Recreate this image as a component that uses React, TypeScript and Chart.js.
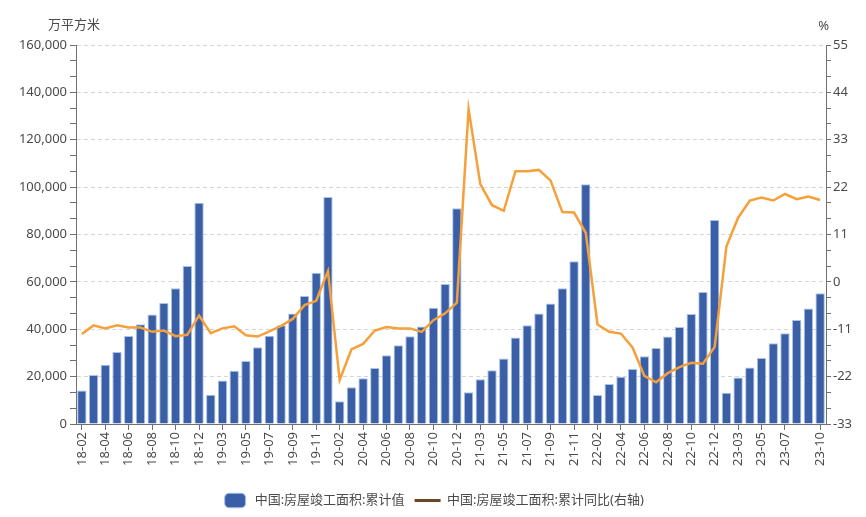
import React, { useEffect, useRef } from 'react';
import { Chart, registerables } from 'chart.js';

Chart.register(...registerables);

const categories = [
  '18-02', '18-03', '18-04', '18-05', '18-06', '18-07', '18-08', '18-09', '18-10', '18-11', '18-12',
  '19-02', '19-03', '19-04', '19-05', '19-06', '19-07', '19-08', '19-09', '19-10', '19-11', '19-12',
  '20-02', '20-03', '20-04', '20-05', '20-06', '20-07', '20-08', '20-09', '20-10', '20-11', '20-12',
  '21-02', '21-03', '21-04', '21-05', '21-06', '21-07', '21-08', '21-09', '21-10', '21-11', '21-12',
  '22-02', '22-03', '22-04', '22-05', '22-06', '22-07', '22-08', '22-09', '22-10', '22-11', '22-12',
  '23-02', '23-03', '23-04', '23-05', '23-06', '23-07', '23-08', '23-09', '23-10',
];

// 中国:房屋竣工面积:累计值 (万平方米)
const completionArea = [
  14100, 20700, 25000, 30400, 37200, 42100, 46200, 51100, 57300, 66700, 93400,
  12400, 18400, 22500, 26600, 32400, 37300, 41700, 46600, 54000, 63900, 95800,
  9600, 15500, 19300, 23600, 29000, 33200, 37000, 41200, 49100, 59100, 91100,
  13400, 18900, 22700, 27600, 36500, 41700, 46600, 50900, 57300, 68700, 101200,
  12200, 16900, 20000, 23200, 28600, 32100, 36900, 41000, 46400, 55700, 86100,
  13200, 19600, 23800, 27900, 34100, 38300, 43900, 48800, 55200,
];

// 中国:房屋竣工面积:累计同比 (%)
const completionYoY = [
  -12.1, -10.1, -10.8, -10.1, -10.6, -10.6, -11.6, -11.3, -12.6, -12.3, -7.8,
  -11.9, -10.8, -10.3, -12.4, -12.7, -11.5, -10.2, -8.6, -5.4, -4.4, 2.5,
  -22.8, -15.7, -14.4, -11.3, -10.5, -10.8, -10.8, -11.6, -8.9, -7.3, -4.8,
  40.1, 22.7, 17.8, 16.5, 25.7, 25.7, 26.0, 23.5, 16.2, 16.1, 11.4,
  -9.9, -11.6, -12.0, -15.3, -21.8, -23.3, -21.2, -19.8, -18.8, -19.0, -15.1,
  8.2, 14.9, 18.9, 19.6, 18.9, 20.4, 19.2, 19.8, 19.0,
];

const leftTicks = [0, 20000, 40000, 60000, 80000, 100000, 120000, 140000, 160000];
const rightTicks = [-33, -22, -11, 0, 11, 22, 33, 44, 55];

const seriesNames = ['中国:房屋竣工面积:累计值', '中国:房屋竣工面积:累计同比(右轴)'];
const axisUnits = ['万平方米', '%'];

const FONT = '"Noto Sans", "Noto Sans CJK SC", sans-serif';
const TEXT = '#4a4a4a';
const AXIS = '#707070';
const BAR = '#3B5FA6';
const BAR_EDGE = '#a9c4e6';
const LINE = '#F5A03A';
const LEGEND_LINE = '#6B4726';

// build ticks with 3 sub-intervals between labelled ticks
const withMinor = (major: number[]) => {
  const out: { value: number; major: boolean }[] = [];
  for (let i = 0; i < major.length - 1; i++) {
    const a = major[i];
    const b = major[i + 1];
    for (let k = 0; k < 3; k++) out.push({ value: a + ((b - a) * k) / 3, major: k === 0 });
  }
  out.push({ value: major[major.length - 1], major: true });
  return out;
};

const axisTitles = {
  id: 'axisTitles',
  afterDraw(chart: any) {
    const { ctx, chartArea } = chart;
    ctx.save();
    ctx.font = `13px ${FONT}`;
    ctx.fillStyle = TEXT;
    ctx.textBaseline = 'middle';
    ctx.textAlign = 'left';
    ctx.fillText(axisUnits[0], chartArea.left - 28, chartArea.top - 20);
    ctx.textAlign = 'right';
    ctx.fillText(axisUnits[1], chartArea.right + 3, chartArea.top - 19);
    ctx.restore();
  },
};

export default function App() {
  const ref = useRef<HTMLCanvasElement | null>(null);

  useEffect(() => {
    if (!ref.current) return;
    const leftAll = withMinor(leftTicks);
    const rightAll = withMinor(rightTicks);
    const n = categories.length;

    const chart = new Chart(ref.current, {
      type: 'bar',
      data: {
        labels: categories,
        datasets: [
          {
            type: 'line',
            label: seriesNames[1],
            data: completionYoY,
            yAxisID: 'y1',
            borderColor: LINE,
            backgroundColor: LINE,
            borderWidth: 2.5,
            pointRadius: 0,
            tension: 0,
            order: 0,
          } as any,
          {
            type: 'bar',
            label: seriesNames[0],
            data: completionArea,
            yAxisID: 'y',
            backgroundColor: BAR,
            borderColor: BAR_EDGE,
            borderWidth: 1,
            categoryPercentage: 1,
            barPercentage: 0.8,
            order: 1,
          } as any,
        ],
      },
      options: {
        animation: false,
        responsive: false,
        layout: { padding: { left: 0, right: 0, top: 45, bottom: 0 } },
        plugins: {
          tooltip: { enabled: false },
          legend: {
            position: 'bottom',
            labels: {
              usePointStyle: true,
              pointStyleWidth: 26,
              boxHeight: 12,
              padding: 10,
              color: TEXT,
              font: { size: 13, family: FONT },
              generateLabels: () => [
                {
                  text: seriesNames[0],
                  fillStyle: BAR,
                  strokeStyle: BAR_EDGE,
                  lineWidth: 1,
                  pointStyle: 'rectRounded',
                  datasetIndex: 1,
                  hidden: false,
                  fontColor: TEXT,
                },
                {
                  text: seriesNames[1],
                  fillStyle: LEGEND_LINE,
                  strokeStyle: LEGEND_LINE,
                  lineWidth: 3,
                  pointStyle: 'line',
                  datasetIndex: 0,
                  hidden: false,
                  fontColor: TEXT,
                },
              ] as any,
            },
          },
        },
        scales: {
          x: {
            offset: true,
            grid: {
              display: true,
              drawOnChartArea: false,
              offset: false,
              tickLength: 6,
              color: AXIS,
            },
            border: { color: AXIS },
            ticks: {
              autoSkip: false,
              maxRotation: 90,
              minRotation: 90,
              padding: 2,
              color: TEXT,
              font: { size: 13, family: FONT },
              callback: (_v: any, i: number) =>
                (i % 2 === 0 && i !== n - 2) || i === n - 1 ? categories[i] : null,
            },
            afterFit: (s: any) => {
              s.height = 60;
            },
          },
          y: {
            position: 'left',
            min: leftTicks[0],
            max: leftTicks[leftTicks.length - 1],
            afterBuildTicks: (s: any) => {
              s.ticks = leftAll.map((t) => ({ value: t.value }));
            },
            ticks: {
              autoSkip: false,
              color: TEXT,
              padding: 3,
              font: { size: 13, family: FONT },
              callback: (v: any, i: number) =>
                leftAll[i] && leftAll[i].major ? Number(v).toLocaleString('en-US') : '',
            },
            grid: {
              color: (c: any) =>
                leftAll[c.index] && leftAll[c.index].major && c.index > 0 ? '#d6d6d6' : 'rgba(0,0,0,0)',
              tickColor: AXIS,
              tickLength: 6,
              tickBorderDash: [],
            },
            border: { color: AXIS, dash: [4, 3] },
            afterFit: (s: any) => {
              s.width = 76;
            },
          },
          y1: {
            position: 'right',
            min: rightTicks[0],
            max: rightTicks[rightTicks.length - 1],
            afterBuildTicks: (s: any) => {
              s.ticks = rightAll.map((t) => ({ value: t.value }));
            },
            ticks: {
              autoSkip: false,
              color: TEXT,
              padding: 2,
              font: { size: 13, family: FONT },
              callback: (v: any, i: number) =>
                rightAll[i] && rightAll[i].major ? String(Math.round(Number(v))) : '',
            },
            grid: {
              drawOnChartArea: false,
              color: AXIS,
              tickColor: AXIS,
              tickLength: 5,
            },
            border: { color: AXIS },
            afterFit: (s: any) => {
              s.width = 40;
            },
          },
        },
      } as any,
      plugins: [axisTitles],
    });

    return () => chart.destroy();
  }, []);

  return (
    <div style={{ position: 'absolute', left: 0, top: 0, width: 866, height: 517, background: '#fff' }}>
      <canvas ref={ref} width={866} height={517} style={{ width: 866, height: 517, display: 'block' }} />
    </div>
  );
}
